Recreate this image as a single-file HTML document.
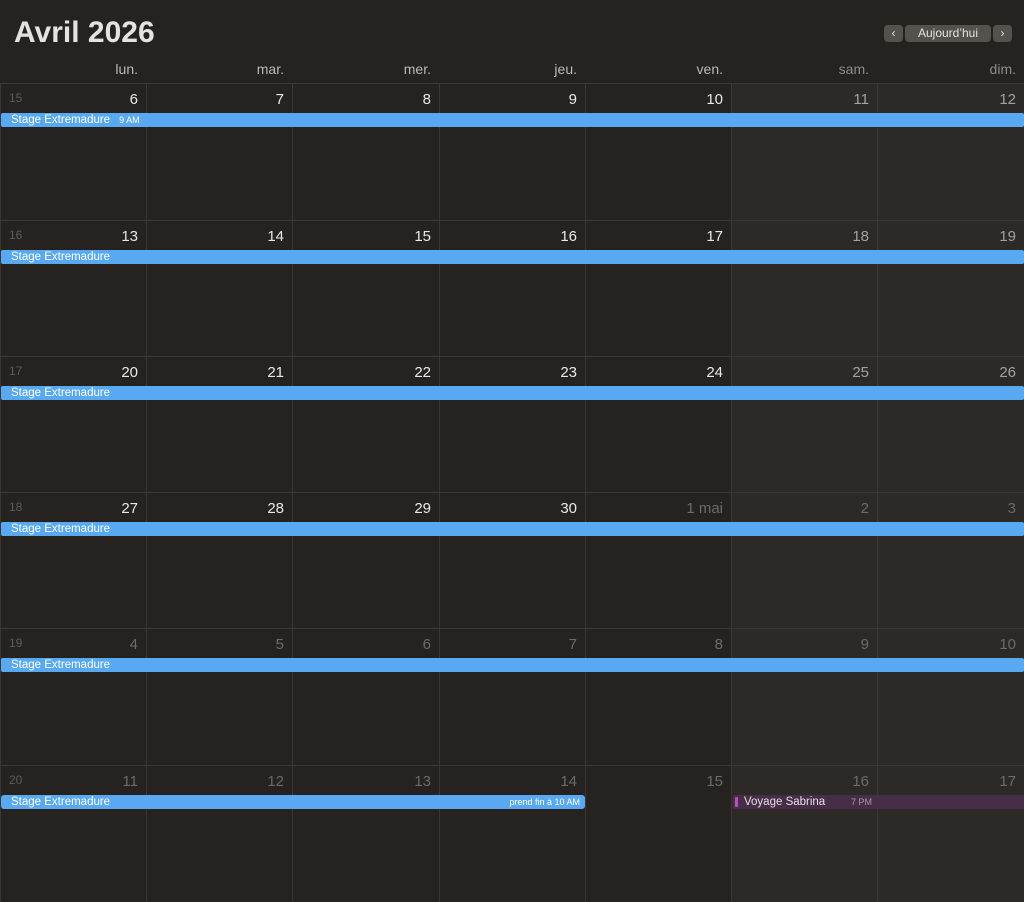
<!DOCTYPE html>
<html><head><meta charset="utf-8"><style>
body{margin:0;width:1024px;height:900px;background:#252220;font-family:"Liberation Sans",sans-serif;overflow:hidden;position:relative}
.abs{position:absolute}
.title{left:14px;top:16px;font-size:30px;font-weight:bold;color:#e6e3df}
.dow{top:61px;font-size:14px;color:#bcb9b5;text-align:right;width:138px}
.cell{position:absolute;border-left:1px solid #3a3734;border-top:1px solid #3a3734;box-sizing:border-box}
.we{background:#2c2926}
.num{position:absolute;right:9px;top:7px;font-size:15px;color:#ebe8e4}
.num.o{color:#6e6a66}.num.w{color:#a5a19c}
.wk{position:absolute;left:8px;top:7px;font-size:12px;color:#5f5b57}
.bar{position:absolute;height:14px;background:#58a9f1;color:#fff;font-size:11.5px;line-height:14px;padding-left:10px;box-sizing:border-box;border-radius:2px}
.btn{position:absolute;top:25px;height:17px;background:#55524e;border-radius:4px;color:#e6e3df;font-size:12px;line-height:17px;text-align:center}
</style></head><body>
<div class="abs title">Avril 2026</div>
<div class="btn" style="left:884px;width:19px">&#8249;</div>
<div class="btn" style="left:905px;width:86px">Aujourd’hui</div>
<div class="btn" style="left:993px;width:19px">&#8250;</div>
<div id="g"></div>
<script>
var xs=[0,146,292,439,585,731,877,1024],ys=[83,220,356,492,628,765,901];
var dn=["lun.","mar.","mer.","jeu.","ven.","sam.","dim."],h="";
for(var c=0;c<7;c++)h+='<div class="abs dow" style="left:'+(xs[c+1]-146)+'px;'+(c>4?'color:#8f8b87':'')+'">'+dn[c]+'</div>';
var d=6,m=4;
for(var r=0;r<6;r++)for(var c=0;c<7;c++){
 var lbl=d,cls="";
 if(m==5){cls="o";if(d==1)lbl="1 mai";}else if(c>4)cls="w";
 h+='<div class="cell'+(c>4?' we':'')+'" style="left:'+xs[c]+'px;top:'+ys[r]+'px;width:'+(xs[c+1]-xs[c]+1)+'px;height:'+(ys[r+1]-ys[r]+1)+'px">'+(c==0?'<span class="wk">'+(15+r)+'</span>':'')+'<span class="num '+cls+'">'+lbl+'</span></div>';
 d++;if(m==4&&d>30){d=1;m=5;}
}
for(var r=0;r<5;r++)h+='<div class="bar" style="left:1px;width:1023px;top:'+(ys[r]+30)+'px">Stage Extremadure'+(r==0?'<span style="font-size:9px;margin-left:9px">9 AM</span>':'')+'</div>';
h+='<div class="bar" style="left:1px;width:584px;top:795px;border-radius:3px">Stage Extremadure<span style="position:absolute;right:5px;font-size:9px">prend fin à 10 AM</span></div>';
h+='<div class="abs" style="left:733px;top:795px;width:291px;height:14px;background:#482d48;color:#e6dde6;font-size:11.5px;line-height:14px"><span style="position:absolute;left:2px;top:2px;width:3px;height:10px;background:#b84ec0;border-radius:1px"></span><span style="margin-left:11px">Voyage Sabrina</span><span style="position:absolute;left:118px;font-size:9px;color:#a89aa8">7 PM</span></div>';
document.getElementById("g").innerHTML=h;
</script>
</body></html>
